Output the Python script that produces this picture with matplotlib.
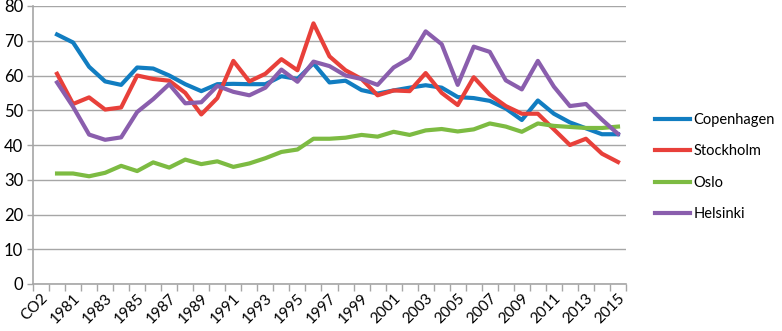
import matplotlib
matplotlib.use("Agg")
import matplotlib.pyplot as plt
import numpy as np

categories = ["CO2"] + [str(y) for y in range(1980, 2016)]
years = list(range(1980, 2016))

copenhagen = [71.8, 69.5, 62.5, 58.3, 57.3, 62.3, 62.0, 60.0, 57.5, 55.5,
              57.5, 57.6, 57.5, 57.5, 59.8, 59.0, 63.5, 58.0, 58.5, 55.8,
              54.8, 55.7, 56.5, 57.2, 56.5, 53.8, 53.5, 52.7, 50.5, 47.2,
              52.8, 49.0, 46.5, 44.8, 43.1, 43.1]
stockholm = [60.5, 51.8, 53.7, 50.2, 50.8, 60.0, 59.0, 58.5, 55.0, 48.8,
             53.5, 64.2, 58.3, 60.5, 64.7, 61.5, 75.0, 65.5, 61.5, 59.0,
             54.3, 55.7, 55.5, 60.7, 55.0, 51.5, 59.5, 54.5, 51.2, 49.0,
             49.0, 44.5, 40.0, 41.8, 37.5, 35.1]
oslo = [31.8, 31.8, 31.0, 32.0, 34.0, 32.5, 35.0, 33.5, 35.8, 34.5,
        35.3, 33.7, 34.7, 36.2, 38.0, 38.7, 41.8, 41.8, 42.1, 42.9,
        42.4, 43.8, 42.9, 44.2, 44.6, 43.9, 44.5, 46.2, 45.3, 43.8,
        46.2, 45.5, 45.2, 44.9, 44.9, 45.3]
helsinki = [58.0, 51.0, 43.0, 41.5, 42.2, 49.5, 53.2, 57.5, 52.0, 52.3,
            57.0, 55.3, 54.3, 56.5, 61.7, 58.2, 64.0, 62.7, 60.0, 59.0,
            57.3, 62.3, 65.0, 72.7, 69.0, 57.3, 68.3, 66.8, 58.6, 56.0,
            64.2, 56.8, 51.2, 51.8, 47.3, 43.2]

series = [("Copenhagen", copenhagen, "#117DC1"),
          ("Stockholm", stockholm, "#E8403A"),
          ("Oslo", oslo, "#7DBB42"),
          ("Helsinki", helsinki, "#8A5EAD")]

plt.rcParams['font.family'] = ['Lato', 'DejaVu Sans']

fig = plt.figure(figsize=(7.82, 3.31), dpi=100)
ax = fig.add_axes([33/782, 1 - 284/331, (626 - 33)/782, (284 - 6)/331])

x = np.arange(1, len(categories))
for name, vals, col in series:
    ax.plot(x, vals, color=col, lw=3.0, label=name, solid_joinstyle='round')

ax.set_xlim(-0.5, len(categories) - 0.5)
ax.set_ylim(0, 80)
ax.set_yticks(range(0, 81, 10))
ax.yaxis.grid(True, color="#A6A6A6", lw=1.0)
ax.set_axisbelow(True)

major = list(range(0, len(categories), 2))
ax.set_xticks(major)
ax.set_xticklabels([categories[i] for i in major], rotation=45, ha='right',
                   rotation_mode='anchor', fontsize=11)
ax.set_xticks(np.arange(-0.5, len(categories)), minor=True)
ax.tick_params(axis='x', which='major', length=0, pad=5)
ax.tick_params(axis='x', which='minor', length=5, color="#A6A6A6", width=1)
ax.tick_params(axis='y', length=4, color="#A6A6A6", width=1, labelsize=12, pad=3)

for s in ['top', 'right']:
    ax.spines[s].set_visible(False)
for s in ['left', 'bottom']:
    ax.spines[s].set_color("#A6A6A6")
    ax.spines[s].set_linewidth(1.2)

fs = 10.5
leg = fig.legend(loc='upper left', bbox_to_anchor=(655/782, 1 - 113/331),
                 frameon=False, fontsize=fs, handlelength=35/(fs*100/72),
                 labelspacing=1.2, handletextpad=0.25,
                 borderaxespad=0, borderpad=0)

fig.savefig("out.png", dpi=100)
